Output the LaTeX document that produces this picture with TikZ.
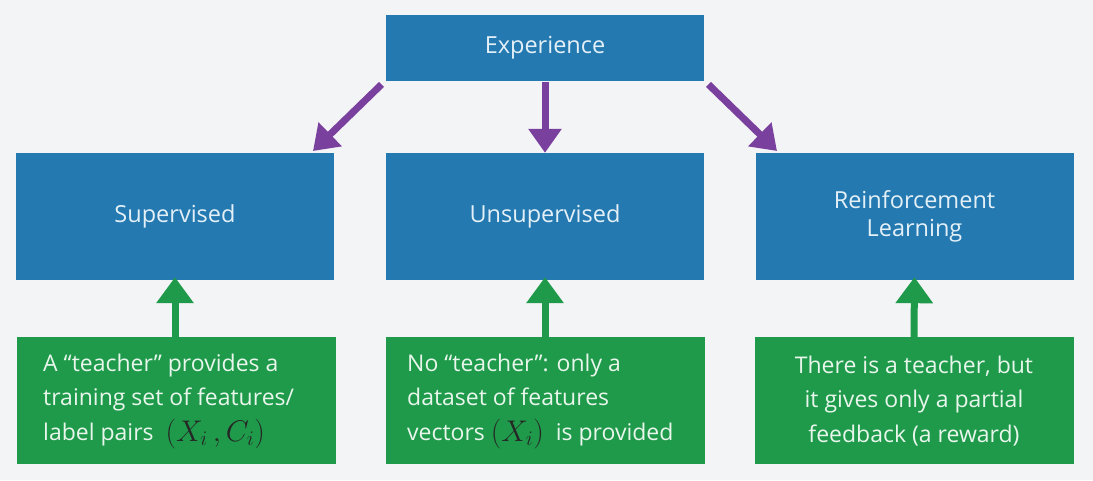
\documentclass[tikz,border=0pt]{standalone}
\usepackage{fontspec}
\usepackage{graphicx}
\setmainfont{Open Sans}
\usetikzlibrary{arrows.meta}
\definecolor{boxblue}{RGB}{36,121,176}
\definecolor{boxgreen}{RGB}{30,154,74}
\definecolor{arrpurple}{RGB}{122,64,158}
\definecolor{bg}{RGB}{243,244,245}
\definecolor{bluetext}{RGB}{228,240,248}
\definecolor{greentext}{RGB}{232,246,236}
\tikzset{
  bluebox/.style={fill=boxblue, draw=none, minimum width=318pt, minimum height=127pt, inner sep=0pt, text=bluetext, font=\fontsize{23.5}{28}\selectfont, align=center},
  topbox/.style={bluebox, minimum height=66pt},
  greenbox/.style={fill=boxgreen, draw=none, minimum width=319pt, minimum height=127pt, inner sep=0pt},
  greentxt/.style={text=greentext, font=\fontsize{23}{34.5}\selectfont, inner sep=0pt},
  purplearrow/.style={draw=arrpurple, line width=7pt, -{Triangle[width=32pt,length=24pt]}, shorten <=2pt},
  greenarrow/.style={draw=boxgreen, line width=7pt, -{Triangle[width=36pt,length=26pt]}}
}
\newcommand{\mathpart}[1]{\raisebox{-1pt}{\scalebox{1.2}{\color{black!85}$\Bigl(#1\Bigr)$}}}
\begin{document}
\begin{tikzpicture}[x=1pt,y=-1pt]
\fill[bg] (0,0) rectangle (1093,480);
\useasboundingbox (0,0) rectangle (1093,480);
\node[topbox] (exp) at (545,48) {Experience};
\node[bluebox] (sup) at (175,216.5) {Supervised};
\node[bluebox] (uns) at (545,216.5) {Unsupervised};
\node[bluebox] (rl) at (914.5,216.5) {Reinforcement\\Learning};
\node[greenbox] (gs) at (176,400.5) {};
\node[greenbox] (gu) at (545,400.5) {};
\node[greenbox] (gr) at (914,400.5) {};
\node[greentxt, align=left, anchor=west] (ts) at (43,401) {A “teacher” provides a\\training set of features/\\label pairs~~\mathpart{X_i\,,C_i}};
\node[greentxt, align=left, anchor=west] (tu) at (407,401) {No “teacher”: only a\\dataset of features\\vectors \mathpart{X_i}~~is provided};
\node[greentxt, align=center] (tr) at (914,401) {There is a teacher, but\\it gives only a partial\\feedback (a reward)};
\coordinate (eL) at (383,83);
\coordinate (eR) at (707,83);
\coordinate (sT) at (313,151);
\coordinate (rT) at (777,151);
\draw[purplearrow] (eL) -- (sT);
\draw[purplearrow] ([yshift=1pt]exp.south) -- (uns.north);
\draw[purplearrow] (eR) -- (rT);
\draw[greenarrow] (gs.north -| sup.south) -- ([yshift=3pt]sup.south);
\draw[greenarrow] (gu.north) -- ([yshift=3pt]uns.south);
\draw[greenarrow] (gr.north) -- ([yshift=3pt]rl.south);
\end{tikzpicture}
\end{document}
